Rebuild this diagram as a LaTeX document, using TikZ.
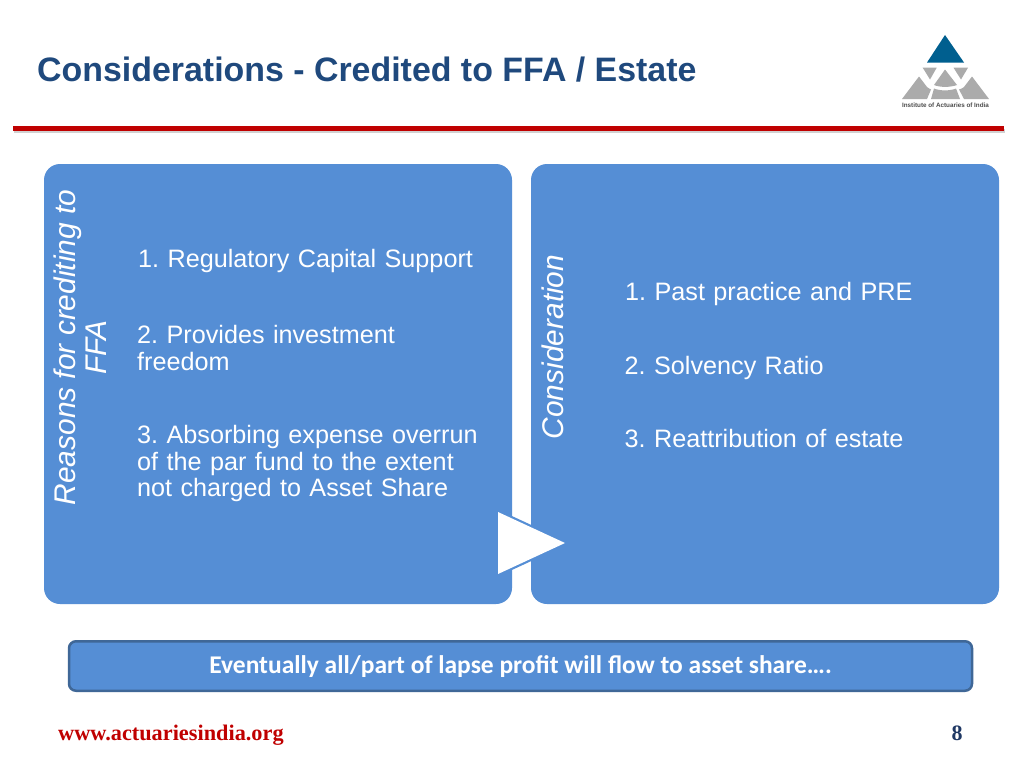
\documentclass[tikz,border=0pt]{standalone}
\usepackage{fontspec}
\setmainfont{Liberation Sans}
\newfontfamily\carl{Carlito}
\newfontfamily\seriff{Liberation Serif}
\definecolor{panelblue}{HTML}{558ED5}
\definecolor{titleblue}{HTML}{1F497D}
\definecolor{rulered}{HTML}{C00000}
\definecolor{logoblue}{HTML}{005F8F}
\definecolor{logogray}{HTML}{ABABAB}
\definecolor{barborder}{HTML}{3F6797}
\definecolor{pagenavy}{HTML}{1F3864}
\tikzset{
  panel/.style={fill=panelblue,draw=none,rounded corners=16pt},
  body/.style={font=\fontsize{25.2}{26.6}\selectfont\frenchspacing,text=white,anchor=north west,align=left,inner sep=0pt,text width=#1},
  body/.default=360pt,
  side/.style={font=\fontsize{29.9}{31}\selectfont\itshape,text=white,rotate=90,align=center,inner sep=0pt},
  logopiece/.style={fill=logogray,draw=none},
}
\begin{document}
\begin{tikzpicture}[x=1pt,y=-1pt]
\useasboundingbox (0,0) rectangle (1024,768);
\fill[white] (0,0) rectangle (1024,768);
\node[anchor=west,inner sep=0pt,font=\fontsize{33.9}{36}\selectfont\bfseries,text=titleblue] (title) at (37,70) {Considerations - Credited to FFA / Estate};
% rule
\fill[black!18] (14,129) rectangle (1005,132.5);
\fill[rulered] (13,126) rectangle (1004,130.5);
% logo
\fill[logoblue] (945,35) -- (964,62.5) -- (927,62.5) -- cycle;
\fill[logopiece] (922.7,67.7) -- (936.7,67.7) -- (930,79.5) -- cycle;
\fill[logopiece] (953.5,67.7) -- (968,67.7) -- (961,79.5) -- cycle;
\fill[logopiece] (945,69.5) -- (957,85) .. controls (950,87.5) and (940,87.5) .. (934,85) -- cycle;
\fill[logopiece] (934,88.5) .. controls (940,91) and (950,91) .. (956,88.5) -- (960,99) -- (931,99) -- cycle;
\fill[logopiece] (902,99) -- (919,76.5) -- (927,87) .. controls (928,88) and (930,89) .. (931,89.5) -- (927,99) -- cycle;
\fill[logopiece] (989,99) -- (972,76.5) -- (964,87) .. controls (963,88) and (961,89) .. (959,89.5) -- (964,99) -- cycle;
\node[inner sep=0pt,font=\fontsize{6.3}{7}\selectfont\bfseries,text=black!70] (logotext) at (945.5,105.5) {Institute of Actuaries of India};
% panels
\path[panel] (44,164) rectangle (512,604);
\path[panel] (531,164) rectangle (999,604);
\node[side] (lside) at (80.5,347.5) {Reasons for crediting to\\FFA};
\node[side] (rside) at (553,347) {Consideration};
\node[body] (a1) at (138,249) {1. Regulatory Capital Support};
\node[body=345pt] (a2) at (137,325) {2. Provides investment\\freedom};
\node[body=350pt] (a3) at (137,425) {3. Absorbing expense overrun\\of the par fund to the extent\\not charged to Asset Share};
\node[body] (b1) at (625,282) {1. Past practice and PRE};
\node[body] (b2) at (624.5,356) {2. Solvency Ratio};
\node[body] (b3) at (624.5,429.5) {3. Reattribution of estate};
% chevron: blue edge outside the white triangle
\draw[panelblue,line width=4.4pt,line join=miter] (498,512) -- (565,543) -- (498,574) -- cycle;
\fill[white] (498,512) -- (565,543) -- (498,574) -- cycle;
% bar
\node[draw=barborder,line width=2.5pt,fill=panelblue,rounded corners=7pt,minimum width=903pt,minimum height=49.5pt,inner sep=0pt] (bar) at (520.5,666) {};
\node[inner sep=0pt,font=\carl\fontsize{25.5}{26}\selectfont\bfseries,text=white] (bartext) at (520.5,667) {Eventually all/part of lapse profit will flow to asset share….};
% footer
\node[anchor=west,inner sep=0pt,font=\seriff\fontsize{22.3}{26}\selectfont\bfseries,text=rulered] (web) at (58,735.5) {www.actuariesindia.org};
\node[inner sep=0pt,font=\seriff\fontsize{22}{26}\selectfont\bfseries,text=pagenavy] (page) at (957,733) {8};
\end{tikzpicture}
\end{document}
